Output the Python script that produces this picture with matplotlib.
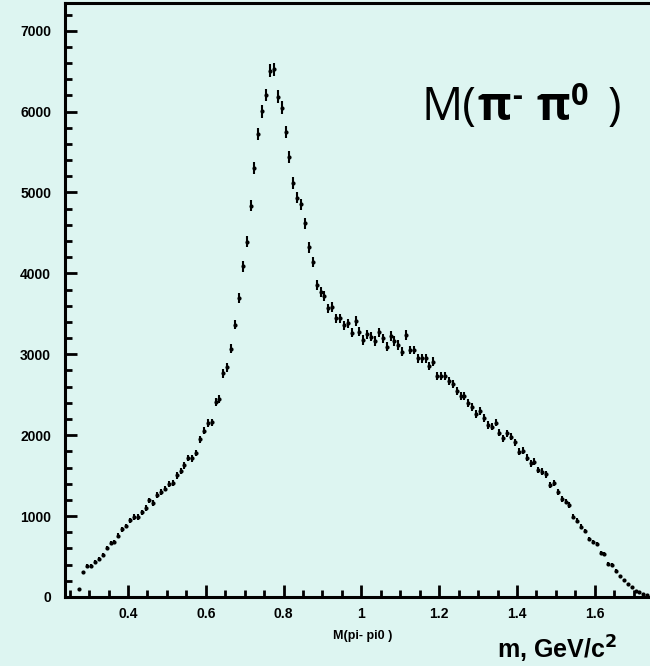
import numpy as np
import matplotlib
matplotlib.use("Agg")
import matplotlib.pyplot as plt
from matplotlib.ticker import MultipleLocator, FixedLocator

# ---- data ----
bin_start = 0.275   # centre of first bin, GeV/c^2
bin_width = 0.01
counts = [
    99, 309, 383, 389, 436, 470, 525, 606, 671, 680,
    758, 837, 878, 948, 989, 989, 1047, 1098, 1193, 1162,
    1261, 1298, 1341, 1394, 1405, 1502, 1557, 1628, 1718, 1714,
    1780, 1949, 2055, 2151, 2159, 2406, 2447, 2765, 2839, 3069,
    3366, 3692, 4087, 4392, 4837, 5298, 5719, 6003, 6205, 6505,
    6522, 6184, 6048, 5747, 5442, 5120, 4935, 4854, 4619, 4322,
    4140, 3856, 3774, 3724, 3568, 3588, 3445, 3445, 3358, 3383,
    3267, 3411, 3279, 3177, 3247, 3217, 3164, 3272, 3198, 3094,
    3226, 3164, 3115, 3032, 3238, 3053, 3053, 2950, 2950, 2950,
    2855, 2908, 2735, 2735, 2735, 2670, 2629, 2550, 2488, 2488,
    2394, 2345, 2258, 2303, 2209, 2126, 2105, 2154, 2031, 1962,
    2023, 1981, 1912, 1796, 1808, 1722, 1653, 1672, 1570, 1549,
    1516, 1384, 1405, 1302, 1208, 1178, 1137, 992, 943, 869,
    816, 713, 684, 651, 548, 531, 408, 396, 325, 260,
    210, 161, 120, 78, 58, 37, 20,
]
x_ticks = [0.4, 0.6, 0.8, 1.0, 1.2, 1.4, 1.6]
x_tick_labels = ["0.4", "0.6", "0.8", "1", "1.2", "1.4", "1.6"]
y_ticks = [0, 1000, 2000, 3000, 4000, 5000, 6000, 7000]
y_tick_labels = ["0", "1000", "2000", "3000", "4000", "5000", "6000", "7000"]

counts = np.array(counts, dtype=float)
mass = bin_start + bin_width * np.arange(len(counts))
errors = np.sqrt(counts)  # Poisson errors

bg = "#ddf5f1"
W, H = 650, 666
fig = plt.figure(figsize=(W / 100, H / 100), dpi=100, facecolor=bg)
ax = fig.add_axes([65 / W, (H - 597) / H, (W - 65) / W, (597 - 3.5) / H])
ax.set_facecolor(bg)

ax.errorbar(mass, counts, yerr=errors, fmt="o", color="black", ms=3.0,
            elinewidth=1.5, capsize=0, mew=0)

ax.set_xlim(0.238, 1.742)
ax.set_ylim(0, 7336)

ax.xaxis.set_major_locator(FixedLocator(x_ticks))
ax.set_xticklabels(x_tick_labels)
ax.xaxis.set_minor_locator(MultipleLocator(0.05))
ax.yaxis.set_major_locator(FixedLocator(y_ticks))
ax.set_yticklabels(y_tick_labels)
ax.yaxis.set_minor_locator(MultipleLocator(200))

for s in ["left", "bottom", "top"]:
    ax.spines[s].set_linewidth(2.2)
ax.spines["right"].set_visible(False)

ax.tick_params(which="both", direction="in", width=2.0, top=False, right=False)
ax.tick_params(which="major", length=8.5)
ax.tick_params(which="minor", length=5)
ax.tick_params(axis="y", pad=10)
ax.tick_params(axis="x", pad=7)
for lab in ax.get_xticklabels() + ax.get_yticklabels():
    lab.set_fontfamily("Liberation Sans")
    lab.set_fontweight("bold")
    lab.set_fontsize(10)

# ---- big label M(pi- pi0 ) built from pieces ----
fig.canvas.draw()
renderer = fig.canvas.get_renderer()
# (text, weight, size, rise px, extra gap px after)
pieces = [
    ("M(", "normal", 33, 0, 2),
    ("π", "bold", 33, 0, 0),
    ("-", "bold", 22, 15, 15),
    ("π", "bold", 33, 0, 0),
    ("0", "bold", 22, 15, 20),
    (")", "normal", 33, 0, 0),
]
x_px, base_px = 421.0, 120.0
for txt, wt, sz, rise, gap in pieces:
    t = fig.text(x_px / W, 1 - (base_px - rise) / H, txt, fontfamily="Open Sans",
                 fontweight=wt, fontsize=sz, ha="left", va="baseline", color="black")
    bb = t.get_window_extent(renderer)
    x_px += bb.width + gap

fig.text(363 / W, 1 - 636 / H, "M(pi- pi0 )", fontfamily="Liberation Sans",
         fontweight="bold", fontsize=9, ha="center", va="center")
fig.text(497 / W, 1 - 659 / H, r"m, GeV/c$^{\mathbf{2}}$", fontfamily="Liberation Sans",
         fontweight="bold", fontsize=18, ha="left", va="baseline")

fig.savefig("out.png", dpi=100, facecolor=bg)
